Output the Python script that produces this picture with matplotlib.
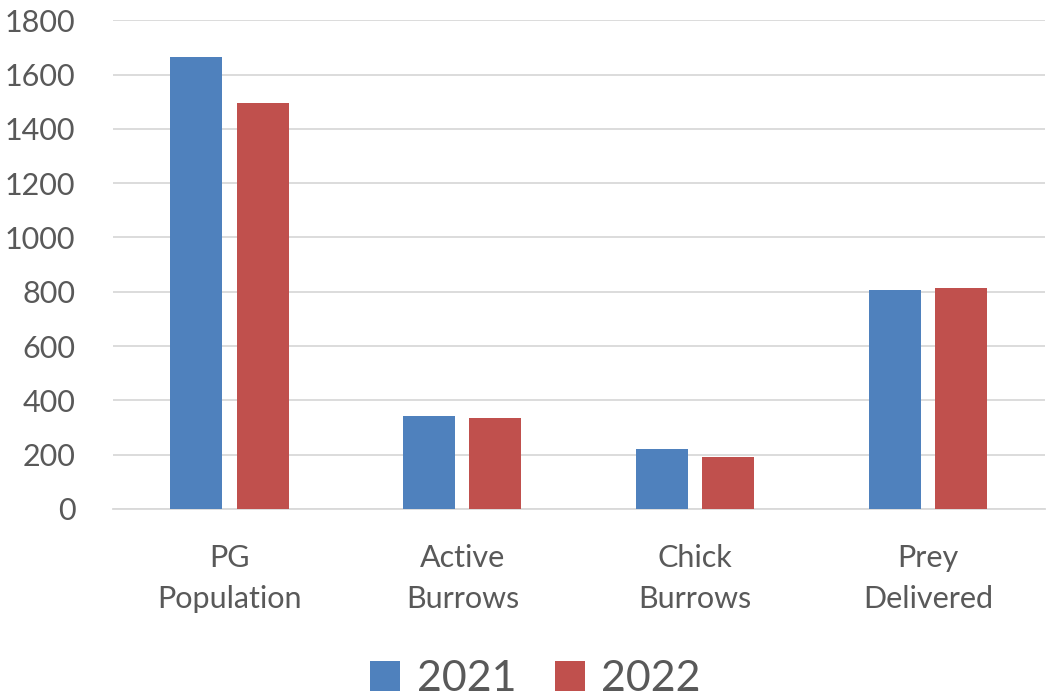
import numpy as np
import matplotlib.pyplot as plt

plt.rcParams['font.family'] = ['Lato', 'DejaVu Sans']

categories = ['PG\nPopulation', 'Active\nBurrows', 'Chick\nBurrows', 'Prey\nDelivered']
vals_2021 = [1663, 341, 221, 807]
vals_2022 = [1496, 334, 190, 814]

txt = '#595959'
fig = plt.figure(figsize=(10.5, 7), dpi=100)
ax = fig.add_axes([0.1076, 0.273, 0.8874, 0.698])

x = np.arange(len(categories))
w = 0.223
ax.bar(x - 0.142, vals_2021, w, color='#4F81BD', label='2021', zorder=3)
ax.bar(x + 0.142, vals_2022, w, color='#C0504D', label='2022', zorder=3)

ax.set_xlim(-0.5, 3.5)
ax.set_ylim(0, 1800)
ax.set_yticks(range(0, 1801, 200))
ax.set_xticks(x)
ax.set_xticklabels(categories, linespacing=1.6)
ax.yaxis.grid(True, color='#D9D9D9', linewidth=1.3, zorder=0)
for s in ['top', 'right', 'left']:
    ax.spines[s].set_visible(False)
ax.spines['bottom'].set_color('#D9D9D9')
ax.spines['bottom'].set_linewidth(1.3)
ax.tick_params(axis='y', length=0, pad=27, labelsize=22, labelcolor=txt)
ax.tick_params(axis='x', length=0, pad=25, labelsize=22, labelcolor=txt)

fig.legend(loc='lower center', bbox_to_anchor=(0.51, -0.052), ncol=2, frameon=False,
           fontsize=31, labelcolor=txt, handlelength=0.7, handleheight=0.7,
           handletextpad=0.38, columnspacing=0.9)

fig.savefig('out.png', dpi=100)
